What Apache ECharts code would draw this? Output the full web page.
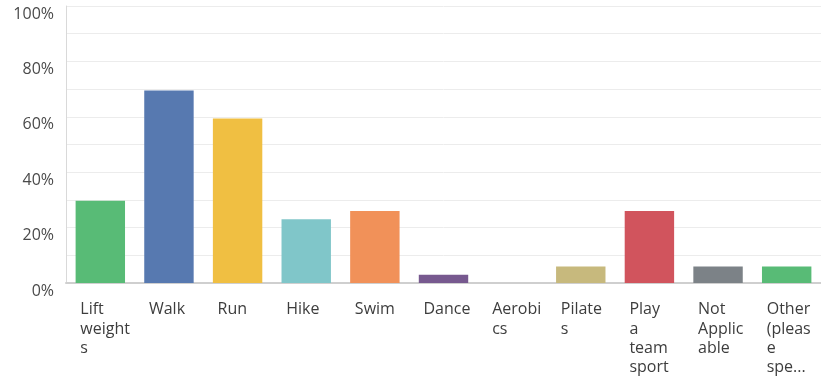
<!DOCTYPE html>
<html><head><meta charset="utf-8">
<script src="https://cdn.jsdelivr.net/npm/echarts@6/dist/echarts.min.js"></script>
<style>html,body{margin:0;padding:0;background:#fff}#c{width:821px;height:384px}</style>
</head><body><div id="c"></div>
<script>
const categories = ['Lift weights','Walk','Run','Hike','Swim','Dance','Aerobics','Pilates','Play a team sport','Not Applicable','Other (please specify)'];
const labelLines = [['Lift','weight','s'],['Walk'],['Run'],['Hike'],['Swim'],['Dance'],['Aerobi','cs'],['Pilate','s'],['Play','a','team','sport'],['Not','Applic','able'],['Other','(pleas','e','spe...']];
const values = [29.7, 69.5, 59.4, 23.0, 26.0, 3.0, 0, 6.0, 26.0, 6.0, 6.0];
const colors = ['#58bb76','#5779b0','#f0bf42','#80c6c9','#f19159','#77598f','#9c9c9c','#c7b97d','#d1545d','#7c8287','#58bb76'];
const yTicks = [0,20,40,60,80,100];

const chart = echarts.init(document.getElementById('c'), null, {renderer:'canvas'});
chart.setOption({
  animation:false,
  grid:{left:66,right:0,top:6,bottom:101,containLabel:false},
  xAxis:{
    type:'category', data:categories,
    axisLine:{show:true,lineStyle:{color:'#cfcfcf',width:2}},
    axisTick:{show:false},
    axisLabel:{
      interval:0, margin:17, align:'center', verticalAlign:'top',
      formatter:(v,i)=>labelLines[i].map(s=>'{a|'+s+'}').join('\n'),
      rich:{a:{width:40,align:'left',fontSize:16,lineHeight:19.3,color:'#3d3d3d',fontFamily:'"Open Sans", sans-serif'}}
    }
  },
  yAxis:{
    type:'value', min:0, max:100, interval:10,
    axisLine:{show:true,lineStyle:{color:'#d9d9d9',width:1}},
    axisTick:{show:false},
    splitLine:{show:true,lineStyle:{color:'#ececec',width:1}},
    axisLabel:{
      margin:12, verticalAlign:'top', color:'#4a4a4a', fontSize:16,
      fontFamily:'"Open Sans", sans-serif',
      formatter:v=>yTicks.includes(v)?v+'%':''
    }
  },
  series:[{
    type:'bar', barCategoryGap:'28%',
    data:values.map((v,i)=>({value:v,itemStyle:{color:colors[i]}}))
  }]
});
</script></body></html>
